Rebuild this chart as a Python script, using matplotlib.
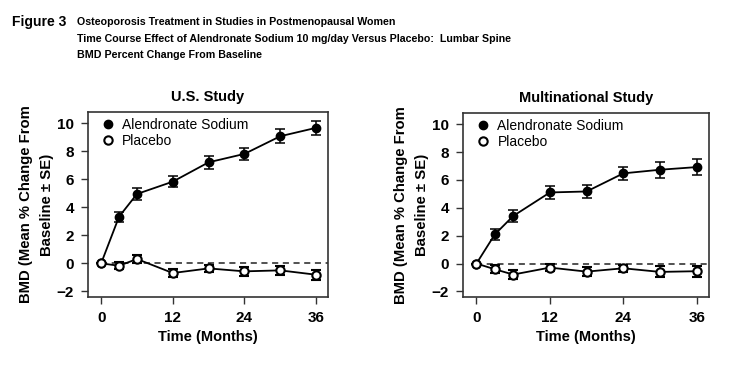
import matplotlib

matplotlib.use("Agg")
import matplotlib.pyplot as plt
from matplotlib.lines import Line2D

plt.rcParams["font.family"] = ["Liberation Sans", "DejaVu Sans"]

MONTHS = [0, 3, 6, 12, 18, 24, 30, 36]

US_ALN = [0, 3.33, 4.95, 5.83, 7.21, 7.81, 9.07, 9.67]
US_ALN_SE = [0, 0.36, 0.42, 0.40, 0.48, 0.45, 0.50, 0.49]
US_PBO = [0, -0.17, 0.31, -0.69, -0.36, -0.57, -0.50, -0.81]
US_PBO_SE = [0, 0.25, 0.30, 0.30, 0.25, 0.30, 0.30, 0.35]

MN_ALN = [0, 2.09, 3.41, 5.10, 5.17, 6.47, 6.73, 6.92]
MN_ALN_SE = [0, 0.38, 0.42, 0.46, 0.46, 0.47, 0.56, 0.58]
MN_PBO = [0, -0.41, -0.79, -0.29, -0.58, -0.34, -0.60, -0.55]
MN_PBO_SE = [0, 0.30, 0.30, 0.25, 0.30, 0.25, 0.40, 0.40]

Y_TICKS = [-2, 0, 2, 4, 6, 8, 10]
X_TICKS = [0, 12, 24, 36]

HEADER = [
    "Osteoporosis Treatment in Studies in Postmenopausal Women",
    "Time Course Effect of Alendronate Sodium 10 mg/day Versus Placebo:  Lumbar Spine",
    "BMD Percent Change From Baseline",
]


def draw_panel(ax, title, aln, aln_se, pbo, pbo_se):
    ax.hlines(0, 0, 38, colors="#222222", linestyles=(0, (4, 3)), linewidth=1.1, zorder=1)
    ax.errorbar(MONTHS, aln, yerr=aln_se, color="black", marker="o", markersize=6,
                markerfacecolor="black", linewidth=1.3, elinewidth=1.1, capsize=3.5,
                capthick=1.1, zorder=3)
    ax.errorbar(MONTHS, pbo, yerr=pbo_se, color="black", marker="o", markersize=6,
                markerfacecolor="white", markeredgewidth=1.5, linewidth=1.3,
                elinewidth=1.1, capsize=3.5, capthick=1.1, zorder=3)
    ax.set_xlim(-2.2, 38)
    ax.set_ylim(-2.4, 10.8)
    ax.set_xticks(X_TICKS)
    ax.set_yticks(Y_TICKS)
    ax.tick_params(labelsize=11, width=1.0, length=5, pad=5, color="#333333")
    for lab in ax.get_xticklabels() + ax.get_yticklabels():
        lab.set_fontweight("bold")
    for spine in ax.spines.values():
        spine.set_color("#333333")
        spine.set_linewidth(1.2)
    ax.set_title(title, fontsize=10.5, fontweight="bold", pad=8)
    ax.set_xlabel("Time (Months)", fontsize=10.5, fontweight="bold", labelpad=4)
    ax.set_ylabel("BMD (Mean % Change From\nBaseline \u00b1 SE)", fontsize=10.7,
                  fontweight="bold", linespacing=1.65, labelpad=2)
    handles = [
        Line2D([], [], linestyle="none", marker="o", markersize=6, color="black"),
        Line2D([], [], linestyle="none", marker="o", markersize=6, color="black",
               markerfacecolor="white", markeredgewidth=1.5),
    ]
    ax.legend(handles, ["Alendronate Sodium", "Placebo"], loc="upper left",
              frameon=False, fontsize=10, handlelength=1.0, handletextpad=0.55,
              borderaxespad=0.1, borderpad=0.3, labelspacing=0.15,
              bbox_to_anchor=(0.03, 1.0))


fig = plt.figure(figsize=(7.38, 3.77), dpi=100)

fig.text(12 / 738, 1 - 22 / 377, "Figure 3", fontsize=10, fontweight="bold", va="center")
for i, line in enumerate(HEADER):
    fig.text(77 / 738, 1 - (22 + 16.5 * i) / 377, line, fontsize=7.7, fontweight="bold",
             va="center")

ax1 = fig.add_axes([88 / 738, 80 / 377, 240 / 738, 185 / 377])
ax2 = fig.add_axes([463 / 738, 80 / 377, 246 / 738, 184 / 377])

draw_panel(ax1, "U.S. Study", US_ALN, US_ALN_SE, US_PBO, US_PBO_SE)
draw_panel(ax2, "Multinational Study", MN_ALN, MN_ALN_SE, MN_PBO, MN_PBO_SE)

fig.savefig("out.png", dpi=100)
